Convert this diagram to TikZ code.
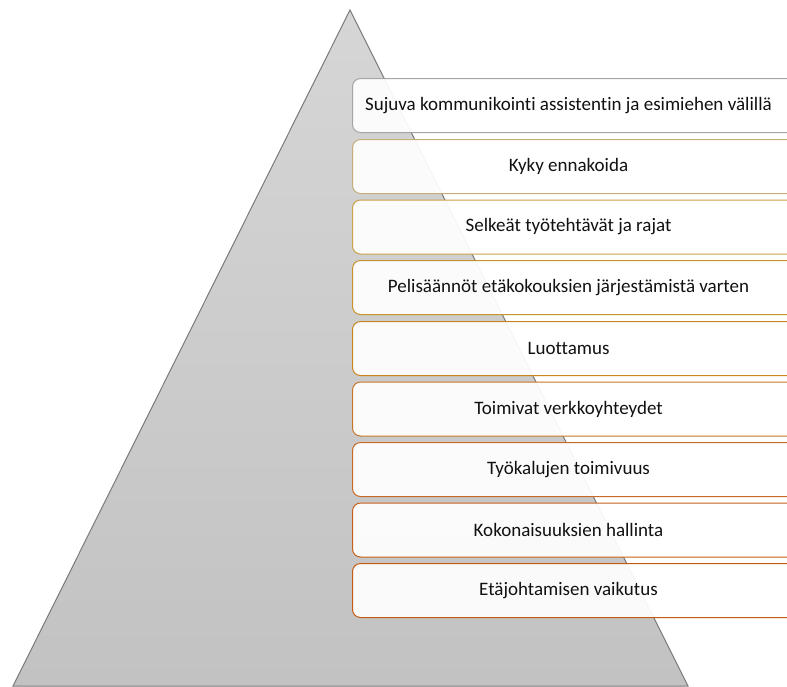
\documentclass[tikz,border=0pt]{standalone}
\usepackage{fontspec}
\setmainfont[Ligatures=NoCommon]{Carlito}
\definecolor{c1}{HTML}{A5A5A5}
\definecolor{c2}{HTML}{C4AE7A}
\definecolor{c3}{HTML}{C9A24A}
\definecolor{c4}{HTML}{C8932C}
\definecolor{c5}{HTML}{C8841E}
\definecolor{c6}{HTML}{C7762A}
\definecolor{c7}{HTML}{C76A25}
\definecolor{c8}{HTML}{C6611B}
\definecolor{c9}{HTML}{C55A11}
\definecolor{tritop}{HTML}{D6D6D6}
\definecolor{tribot}{HTML}{C2C2C2}
\definecolor{triedge}{HTML}{7A7A7A}
\definecolor{txt}{HTML}{111111}
\tikzset{
  box/.style={rectangle, rounded corners=8pt, minimum width=460pt, minimum height=54pt,
    anchor=north west, fill=white, fill opacity=0.93, line width=1pt, inner sep=0pt},
  lbl/.style={font=\fontsize{19}{22}\selectfont, text=txt, inner sep=0pt}
}
\begin{document}
\begin{tikzpicture}[x=1pt,y=-1pt]
\clip (0,0) rectangle (787,686);
\fill[white] (0,0) rectangle (787,686);
\shade[top color=tritop, bottom color=tribot, draw=triedge, line width=1pt]
  (350,10) -- (688,686) -- (13,686) -- cycle;
\foreach \i/\t/\s in {1/78/{Sujuva kommunikointi assistentin ja esimiehen välillä},
  2/139/{Kyky ennakoida},
  3/199.5/{Selkeät työtehtävät ja rajat},
  4/260/{Pelisäännöt etäkokouksien järjestämistä varten},
  5/321/{Luottamus},
  6/381.5/{Toimivat verkkoyhteydet},
  7/442/{Työkalujen toimivuus},
  8/502.5/{Kokonaisuuksien hallinta},
  9/563/{Etäjohtamisen vaikutus}}{
  \node[box, draw=c\i] (b\i) at (352,\t) {};
  \node[lbl] (t\i) at ([xshift=216.5pt]b\i.west) {\s};
}
\end{tikzpicture}
\end{document}
